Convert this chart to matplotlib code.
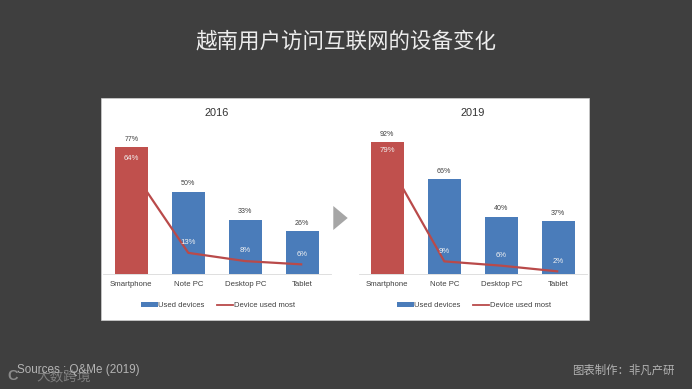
import matplotlib
matplotlib.use("Agg")
import matplotlib.pyplot as plt
from matplotlib.patches import Rectangle, Polygon, Patch
from matplotlib.lines import Line2D

plt.rcParams['font.family'] = ['Liberation Sans', 'Noto Sans CJK SC', 'DejaVu Sans']

W, H = 692, 389
BG = '#3f3f3f'
RED = '#c0504d'
BLUE = '#4a7cba'
LINE = '#b94a4a'
DARK = '#404040'

categories = ['Smartphone', 'Note PC', 'Desktop PC', 'Tablet']
used_2016 = [77, 50, 33, 26]
most_2016 = [64, 13, 8, 6]
used_2019 = [92, 66, 40, 37]
most_2019 = [79, 9, 6, 2]
title_main = '越南用户访问互联网的设备变化'
source_text = 'Sources : Q&Me (2019)'
credit_text = '图表制作：非凡产研'
watermark_text = '大数跨境'

fig = plt.figure(figsize=(W / 100, H / 100), dpi=100, facecolor=BG)


def box(x0, y0, x1, y1):
    return [x0 / W, 1 - y1 / H, (x1 - x0) / W, (y1 - y0) / H]


def figtext(x, y, s, **kw):
    fig.text(x / W, 1 - y / H, s, va='center', **kw)


fig.patches.append(Rectangle((101 / W, 1 - 320 / H), 488 / W, 222 / H,
                             transform=fig.transFigure, facecolor='white',
                             edgecolor='#d0d0d0', linewidth=0.5, zorder=-2))
fig.patches.append(Polygon([(333.3 / W, 1 - 206 / H), (347.7 / W, 1 - 218 / H),
                            (333.3 / W, 1 - 230 / H)], closed=True,
                           transform=fig.transFigure, facecolor='#a6a6a6',
                           edgecolor='none', zorder=-1))


def panel(x0, x1, ytop, year, used, most):
    ax = fig.add_axes(box(x0, ytop, x1, 274.3))
    ax.patch.set_alpha(0)
    ax.set_zorder(2)
    xs = list(range(len(categories)))
    ax.bar(xs[1:], used[1:], width=0.57, color=BLUE, zorder=2)
    ax.plot(xs, most, color=LINE, lw=1.6, zorder=3, solid_capstyle='butt')
    ax.bar(xs[:1], used[:1], width=0.57, color=RED, zorder=4)
    ax.set_xlim(-0.5, 3.5)
    ax.set_ylim(0, 100)
    for s in ('top', 'left', 'right'):
        ax.spines[s].set_visible(False)
    ax.spines['bottom'].set_color('#d9d9d9')
    ax.spines['bottom'].set_linewidth(0.6)
    ax.set_yticks([])
    ax.set_xticks(xs, categories)
    ax.tick_params(axis='x', length=0, pad=4.6, labelsize=5.6, labelcolor=DARK)
    for x, u, m in zip(xs, used, most):
        ax.annotate(f'{u}%', (x, u), xytext=(0, 5.7), textcoords='offset points',
                    ha='center', va='center', fontsize=5.1, color=DARK, zorder=6)
        ax.annotate(f'{m}%', (x, m), xytext=(0, 7.3), textcoords='offset points',
                    ha='center', va='center', fontsize=5.6, color='#f2f2f2', zorder=6)
    figtext((x0 + x1) / 2, 113.3, year, ha='center', fontsize=7.9, color='#333333')
    handles = [Patch(facecolor=BLUE, label='Used devices'),
               Line2D([0], [0], color=LINE, lw=1.3, label='Device used most')]
    ax.legend(handles=handles, loc='center', ncol=2, frameon=False,
              bbox_to_anchor=((x0 + x1) / 2 / W + 0.002, 1 - 305.8 / H),
              bbox_transform=fig.transFigure, fontsize=5.5, labelcolor=DARK,
              handlelength=2.15, handleheight=0.5, handletextpad=0.1,
              columnspacing=1.6, borderpad=0)


panel(102.8, 330.8, 109.3, '2016', used_2016, most_2016)
panel(358.8, 586.8, 130.6, '2019', used_2019, most_2019)

figtext(346, 41, title_main, ha='center', fontsize=15.5, color='#ececec',
        family=['Noto Sans CJK SC', 'DejaVu Sans'])
figtext(36, 376.5, watermark_text, ha='left', fontsize=9.8, color='#8a8a8a', alpha=0.85,
        family=['Noto Sans CJK SC', 'DejaVu Sans'])
figtext(7.5, 376, 'C', ha='left', fontsize=10.5, color='#8a8a8a', fontweight='bold')
figtext(17, 369.5, source_text, ha='left', fontsize=8.4, color='#b4b4b4')
figtext(572, 369.5, credit_text, ha='left', fontsize=8.2, color='#b4b4b4',
        family=['Noto Sans CJK SC', 'DejaVu Sans'])

fig.savefig('out.png', dpi=100, facecolor=BG)
